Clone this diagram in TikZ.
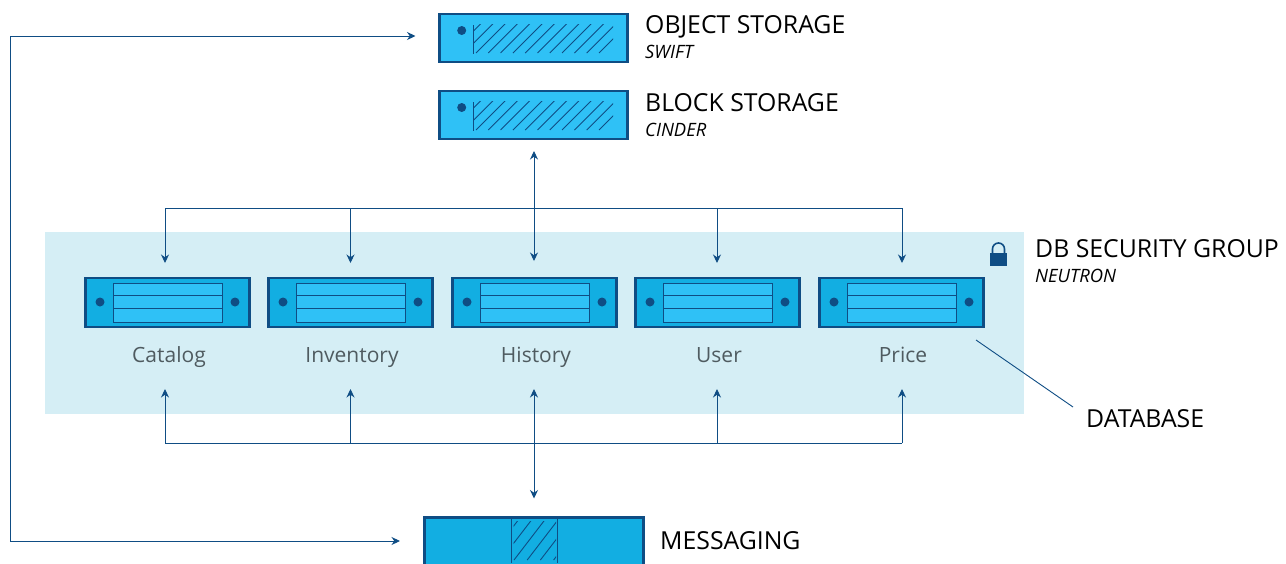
\documentclass[tikz,border=0pt]{standalone}
\usepackage{fontspec}
\setmainfont{Open Sans}
\usepackage{xcolor}
\usetikzlibrary{positioning, arrows.meta}
\definecolor{rackdark}{HTML}{0F4D84}
\definecolor{racklight}{HTML}{2FC1F6}
\definecolor{rackbody}{HTML}{12AEE2}
\definecolor{zoneblue}{HTML}{D5EEF5}
\definecolor{labelgray}{HTML}{4F5B60}
\tikzset{
  rack/.style={draw=rackdark, line width=2.4pt, inner sep=0pt, outer sep=0pt},
  flow/.style={draw=rackdark, line width=0.9pt, {Stealth[length=8.5pt,width=8pt]}-{Stealth[length=8.5pt,width=8pt]}},
  flowto/.style={draw=rackdark, line width=0.9pt, -{Stealth[length=8.5pt,width=8pt]}},
  bus/.style={draw=rackdark, line width=0.9pt},
  thin line/.style={draw=rackdark, line width=0.9pt},
  title/.style={anchor=base west, font=\fontsize{24.8}{24.8}\selectfont, inner sep=0pt, black},
  subtitle/.style={anchor=base west, font=\fontsize{18.4}{18.4}\selectfont\itshape, inner sep=0pt, black},
  dblabel/.style={font=\fontsize{21}{21}\selectfont, text=labelgray, inner sep=0pt}
}
\begin{document}
\begin{tikzpicture}[x=1pt, y=-1pt]
    \useasboundingbox (0,0) rectangle (1286,563);

    % Security group band
    \fill[zoneblue] (45,232) rectangle (1024,414);

    % Storage boxes
    \foreach \name/\ypos/\hbase/\sbase/\head/\sub in {object/38/33/58/OBJECT STORAGE/SWIFT, block/115/111/136/BLOCK STORAGE/CINDER} {
      \node[rack, fill=racklight, minimum width=188pt, minimum height=48pt] (\name) at (533.5,\ypos) {};
      \fill[rackdark] (461.7,\ypos-7.5) circle (4.5pt);
      \draw[thin line] (473,\ypos-13) -- (473,\ypos+16);
      % Hatching
      \begin{scope}
        \clip (473.5,\ypos-14) rectangle (613,\ypos+15);
        \foreach \k in {-2,...,10}
          \draw[thin line] (476+\k*12.3,\ypos+15) -- ++(36,-36);
      \end{scope}
      \node[title] (\name title) at (645,\hbase) {\head};
      \node[subtitle] (\name sub) at (645,\sbase) {\sub};
    }

    % Database servers
    \foreach \name/\xpos/\lab in {catalog/167.5/Catalog, inventory/350.5/Inventory, history/534.5/History, user/717.5/User, price/901.5/Price} {
      \node[rack, fill=rackbody, minimum width=164pt, minimum height=49pt] (\name) at (\xpos,302.5) {};
      \fill[rackdark] (\xpos-67.5,302) circle (4.5pt);
      \fill[rackdark] (\xpos+67.5,302) circle (4.5pt);
      \filldraw[fill=racklight, draw=rackdark, line width=1pt] (\xpos-54.5,283) rectangle (\xpos+54.5,322);
      \draw[thin line] (\xpos-54.5,295.5) -- (\xpos+54.5,295.5);
      \draw[thin line] (\xpos-54.5,308.5) -- (\xpos+54.5,308.5);
      \node[dblabel, anchor=base] (\name label) at (\xpos+1.5,362.5) {\lab};
    }

    % Messaging box
    \node[rack, fill=rackbody, minimum width=219pt, minimum height=60pt] (messaging) at (534,547.5) {};
    \draw[thin line] (511,517) -- (511,563);
    \draw[thin line] (557,517) -- (557,563);
    \begin{scope}
      \clip (513.5,521) rectangle (556,560);
      \foreach \k in {-3,...,3}
        \draw[thin line] (514+\k*13.2,560) -- ++(33,-43);
    \end{scope}
    \node[title] (messaging title) at (660,549) {MESSAGING};

    % Lock
    \fill[rackdark] (990,253) rectangle (1007,266);
    \draw[rackdark, line width=1.6pt] (992.5,254) -- (992.5,249) arc (180:360:6) -- (1004.5,254);
    \node[title] (group title) at (1035,257.5) {DB SECURITY GROUP};
    \node[subtitle] (group sub) at (1035,282.5) {NEUTRON};

    % Database callout
    \node[title, anchor=west] (database) at (1086,419) {DATABASE};
    \coordinate (calloutstart) at (976,340);
    \coordinate (calloutend) at (1073,407);
    \draw[thin line] (calloutstart) -- (calloutend);

    % Upper and lower bus
    \coordinate (upperbus) at (534,208);
    \coordinate (lowerbus) at (534,443);
    \draw[bus] ([xshift=-2.5pt]upperbus -| catalog) -- ([xshift=0.5pt]upperbus -| price);
    \draw[bus] ([xshift=-2.5pt]lowerbus -| catalog) -- ([xshift=0.5pt]lowerbus -| price);
    \foreach \name/\shift in {catalog/-2.5, inventory/0, user/-0.5, price/0.5} {
      \draw[flowto] ([xshift=\shift pt]upperbus -| \name) -- ([xshift=\shift pt, yshift=15pt]\name.north);
      \draw[flowto] ([xshift=\shift pt]lowerbus -| \name) -- ([xshift=\shift pt, yshift=-62pt]\name.south);
    }
    \draw[flow] ([xshift=0.5pt, yshift=-12pt]block.south) -- ([xshift=-0.5pt, yshift=17pt]history.north);
    \draw[flow] ([xshift=-0.5pt, yshift=-62pt]history.south) -- ([yshift=19pt]messaging.north);

    % Left return line
    \coordinate (returncorner) at (10,36);
    \draw[flowto] (returncorner) -- ([xshift=-24pt]object.west |- returncorner);
    \draw[flowto] (returncorner) |- (400,541);
\end{tikzpicture}
\end{document}
